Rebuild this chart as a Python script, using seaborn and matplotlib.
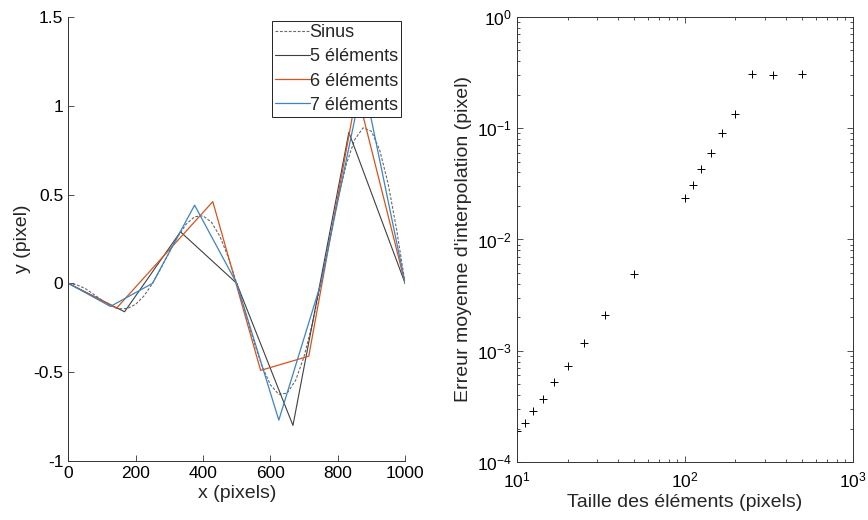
import numpy as np
import pandas as pd
import matplotlib
matplotlib.use("Agg")
import matplotlib.pyplot as plt
import seaborn as sns

sns.set_style("ticks")
plt.rcParams['font.family'] = ['Liberation Sans', 'DejaVu Sans']
plt.rcParams['axes.unicode_minus'] = False
plt.rcParams['xtick.direction'] = 'in'
plt.rcParams['ytick.direction'] = 'in'

# courbe de reference (sinus)
x_sin = [0, 25, 50, 75, 100, 125, 150, 175, 200, 225, 250, 275, 300, 325, 350,
         375, 400, 425, 450, 475, 500, 525, 550, 575, 600, 625, 650, 675, 700,
         725, 750, 775, 800, 825, 850, 875, 900, 925, 950, 975, 1000]
y_sin = [0, -0.008, -0.029, -0.061, -0.095, -0.125, -0.143, -0.142, -0.118,
         -0.07, 0, 0.085, 0.176, 0.263, 0.333, 0.375, 0.38, 0.344, 0.265,
         0.147, 0, -0.162, -0.323, -0.465, -0.571, -0.625, -0.618, -0.546,
         -0.412, -0.224, 0, 0.24, 0.47, 0.667, 0.808, 0.875, 0.856, 0.748,
         0.558, 0.301, 0]

# interpolations
x5 = [0, 167, 333, 500, 667, 833, 1000]
y5 = [0, -0.16, 0.29, 0, -0.80, 0.85, 0]
x6 = [0, 143, 286, 429, 571, 714, 857, 1000]
y6 = [0, -0.14, 0.16, 0.46, -0.49, -0.41, 1.08, 0]
x7 = [0, 125, 250, 375, 500, 625, 750, 875, 1000]
y7 = [0, -0.13, 0, 0.44, 0, -0.77, 0.0, 1.15, 0]

# erreur moyenne selon la taille des elements
taille = [10, 11.1, 12.5, 14.3, 16.7, 20, 25, 33.3, 50, 100, 111, 125, 143,
          167, 200, 250, 333, 500]
erreur = [1.9e-4, 2.26e-4, 2.9e-4, 3.7e-4, 5.2e-4, 7.3e-4, 1.18e-3, 2.1e-3,
          4.9e-3, 2.35e-2, 3.07e-2, 4.3e-2, 6.0e-2, 9.1e-2, 0.134, 0.31, 0.30,
          0.31]

fig = plt.figure(figsize=(8.68, 5.2), dpi=100)
ax1 = fig.add_axes([0.0787, 0.1135, 0.388, 0.854])
ax2 = fig.add_axes([0.5956, 0.1115, 0.387, 0.856])

axcol = '#333333'

# --- gauche
sns.lineplot(x=x_sin, y=y_sin, ax=ax1, color='#666666', linestyle='--',
             linewidth=0.8, label='Sinus', dashes=False)
ax1.lines[-1].set_linestyle((0, (2.5, 1.5)))
sns.lineplot(x=x5, y=y5, ax=ax1, color='#404040', linewidth=0.8,
             label='5 éléments')
sns.lineplot(x=x6, y=y6, ax=ax1, color='#D95319', linewidth=0.9,
             label='6 éléments')
sns.lineplot(x=x7, y=y7, ax=ax1, color='#3C84C6', linewidth=0.9,
             label='7 éléments')

ax1.set_xlim(0, 1000)
ax1.set_ylim(-1, 1.5)
ax1.set_xticks([0, 200, 400, 600, 800, 1000])
ax1.set_yticks([-1, -0.5, 0, 0.5, 1, 1.5])
ax1.set_yticklabels(['-1', '-0.5', '0', '0.5', '1', '1.5'])
ax1.set_xlabel('x (pixels)', fontsize=14, labelpad=3)
ax1.set_ylabel('y (pixel)', fontsize=14, labelpad=2)
ax1.tick_params(labelsize=12.5, length=4, width=0.6, colors=axcol,
                labelcolor='black')
for s in ['top', 'right']:
    ax1.spines[s].set_visible(False)
for s in ['left', 'bottom']:
    ax1.spines[s].set_color(axcol)
    ax1.spines[s].set_linewidth(0.7)

leg = ax1.legend(loc='upper right', fontsize=13, frameon=True,
                 fancybox=False, framealpha=1, edgecolor='#222222',
                 handlelength=1.9, handletextpad=0.0, borderpad=0.2,
                 labelspacing=0.4, borderaxespad=0.2)
leg.get_frame().set_linewidth(0.7)

# --- droite
sns.scatterplot(x=taille, y=erreur, ax=ax2, marker='+', color='black', s=30,
                linewidth=0.7)
ax2.set_xscale('log')
ax2.set_yscale('log')
ax2.set_xlim(10, 1000)
ax2.set_ylim(1e-4, 1)
ax2.set_xlabel('Taille des éléments (pixels)', fontsize=14, labelpad=3)
ax2.set_ylabel("Erreur moyenne d'interpolation (pixel)", fontsize=14,
               labelpad=4)
ax2.tick_params(which='both', top=True, right=True, colors=axcol,
                labelcolor='black', width=0.6)
ax2.tick_params(which='major', labelsize=12.5, length=4)
ax2.tick_params(axis='x', which='major', pad=6)
ax2.tick_params(which='minor', length=2)
for s in ax2.spines.values():
    s.set_color(axcol)
    s.set_linewidth(0.7)

fig.savefig('out.png', dpi=100)
